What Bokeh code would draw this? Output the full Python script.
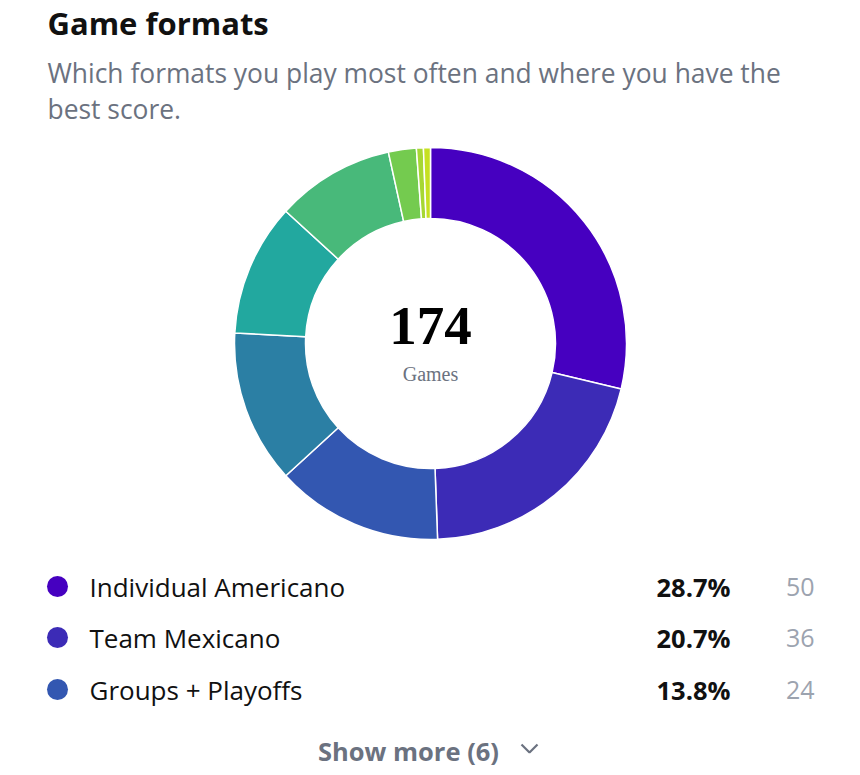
from math import pi
from bokeh.plotting import figure
from bokeh.models import Range1d, ColumnDataSource
from bokeh.core.properties import value
from bokeh.embed import file_html
from bokeh.resources import INLINE

# ---- data ----
title = "Game formats"
subtitle = ["Which formats you play most often and where you have the", "best score."]
counts = [50, 36, 24, 22, 19, 17, 4, 1, 1]
shown_labels = ["Individual Americano", "Team Mexicano", "Groups + Playoffs"]
center_label = "Games"
more_label = "Show more ({})"

colors = ["#4600c0", "#3c2bb6", "#3357b1", "#2b7fa4", "#22a89f", "#48b97a",
          "#74cb4f", "#a6d733", "#c6e021"]

W, H = 860, 775
p = figure(width=W, height=H, output_backend="svg", toolbar_location=None,
           x_range=Range1d(0, W), y_range=Range1d(0, H),
           min_border=0)
p.axis.visible = False
p.grid.visible = False
p.outline_line_color = None
p.background_fill_color = "white"
p.border_fill_color = "white"

def Y(py):
    return H - py

FONT = "Open Sans"

# title & subtitle
p.text(x=[47], y=[Y(22)], text=[title], text_font=value(FONT), text_font_size="31px",
       text_font_style="bold", text_color="#111111", text_baseline="middle", text_align="left")
p.text(x=[47, 47], y=[Y(72), Y(108)], text=subtitle, text_font=value(FONT), text_font_size="26.4px",
       text_color="#6b7280", text_baseline="middle", text_align="left")

# donut
total = sum(counts)
cum = 0
starts, ends = [], []
for c in counts:
    starts.append(pi / 2 - 2 * pi * cum / total)
    cum += c
    ends.append(pi / 2 - 2 * pi * cum / total)
cx, cy = 430, Y(343)
src = ColumnDataSource(dict(start=starts, end=ends, color=colors))
p.annular_wedge(x=cx, y=cy, inner_radius=125, outer_radius=196, start_angle="start",
                end_angle="end", direction="clock", fill_color="color",
                line_color="white", line_width=1.5, source=src)

p.text(x=[cx], y=[cy + 18], text=[str(total)], text_font=value("Liberation Serif"),
       text_font_size="55px", text_font_style="bold", text_color="#000000",
       text_baseline="middle", text_align="center")
p.text(x=[cx], y=[cy - 30], text=[center_label], text_font=value("Liberation Serif"),
       text_font_size="20px", text_color="#6b7280", text_baseline="middle", text_align="center")

# legend rows
row_y = [Y(586), Y(637), Y(689)]
pct = ["{:.1f}%".format(100 * c / total) for c in counts[:3]]
cnt = [str(c) for c in counts[:3]]
p.scatter(x=[57] * 3, y=row_y, size=21, marker="circle", fill_color=colors[:3], line_color=None)
p.text(x=[89] * 3, y=row_y, text=shown_labels, text_font=value(FONT), text_font_size="26px",
       text_color="#111111", text_baseline="middle", text_align="left")
p.text(x=[730] * 3, y=row_y, text=pct, text_font=value(FONT), text_font_size="25.5px",
       text_font_style="bold", text_color="#111111", text_baseline="middle", text_align="right")
p.text(x=[814] * 3, y=row_y, text=cnt, text_font=value(FONT), text_font_size="25px",
       text_color="#9ca3af", text_baseline="middle", text_align="right")

# show more
p.text(x=[408], y=[Y(750)], text=[more_label.format(len(counts) - 3)], text_font=value(FONT),
       text_font_size="25.5px", text_font_style="bold", text_color="#6b7280",
       text_baseline="middle", text_align="center")
p.line(x=[521, 529, 537], y=[Y(744), Y(752), Y(744)], line_color="#6b7280", line_width=2.2)

open("out.html", "w").write(file_html(p, INLINE))
